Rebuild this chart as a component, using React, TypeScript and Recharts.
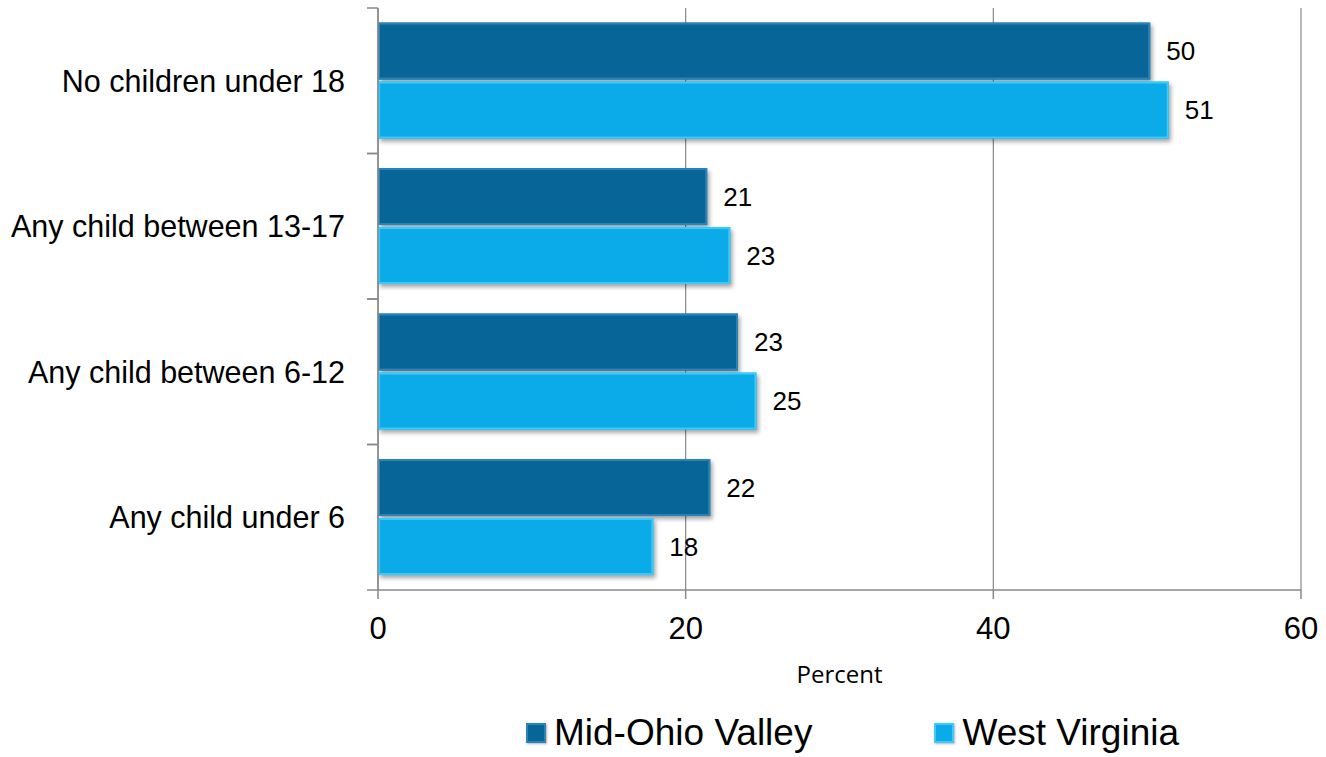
import { Bar, BarChart, CartesianGrid, LabelList, XAxis, YAxis } from "recharts"

const categories = ["No children under 18", "Any child between 13-17", "Any child between 6-12", "Any child under 6"]
const midOhio = [50.2, 21.4, 23.4, 21.6]
const westVirginia = [51.4, 22.9, 24.6, 17.9]
const xTicks = [0, 20, 40, 60]

const data = categories.map((name, i) => ({ name, mid: midOhio[i], wv: westVirginia[i] }))

const DARK = "#086598"
const DARK_EDGE = "#2c84b6"
const LIGHT = "#0aabe8"
const LIGHT_EDGE = "#3ccaf8"
const FONT = "'Liberation Sans', Arial, Helvetica, sans-serif"

const BAND_HALF = (590 - 8) / 4 / 2

function BevelBar(props: any) {
  const { x, y, width, height, fill, edge } = props
  if (!width || width <= 0) return null
  return (
    <g style={{ filter: "drop-shadow(2px 3px 2px rgba(0,0,0,0.35))" }}>
      <rect x={x} y={y} width={width} height={height} fill={fill} />
      <rect x={x + 1} y={y + 1} width={width - 2} height={height - 2} fill="none" stroke={edge} strokeWidth={2} />
    </g>
  )
}

function CategoryTick(props: any) {
  const { x, y, payload } = props
  return (
    <g>
      <line x1={x - 11} x2={x} y1={y - BAND_HALF} y2={y - BAND_HALF} stroke="#888" strokeWidth={1.5} />
      <line x1={x - 11} x2={x} y1={y + BAND_HALF} y2={y + BAND_HALF} stroke="#888" strokeWidth={1.5} />
      <text x={x - 33} y={y} textAnchor="end" dominantBaseline="central" fontSize={30.5} fill="#000" style={{ fontFamily: FONT }}>
        {payload.value}
      </text>
    </g>
  )
}

function LegendSwatch({ color, edge }: { color: string; edge: string }) {
  return (
    <span
      style={{
        display: "inline-block",
        width: 20,
        height: 20,
        background: color,
        boxShadow: `inset 0 0 0 2px ${edge}, 1px 1px 2px rgba(0,0,0,0.3)`,
        marginRight: 8,
      }}
    />
  )
}

export default function App() {
  return (
    <div style={{ position: "absolute", left: 0, top: 0, width: 1326, height: 757, background: "#fff", fontFamily: FONT }}>
      <BarChart
        width={1326}
        height={757}
        data={data}
        layout="vertical"
        margin={{ top: 8, right: 25, left: 0, bottom: 0 }}
        barCategoryGap="10%"
        barGap={2}
        style={{ fontFamily: FONT }}
      >
        <CartesianGrid horizontal={false} stroke="#888" strokeWidth={1.2} />
        <XAxis
          type="number"
          domain={[0, 60]}
          ticks={xTicks}
          height={167}
          stroke="#888"
          strokeWidth={1.5}
          tickSize={9}
          tickMargin={18}
          tick={{ fontSize: 31, fill: "#000", style: { fontFamily: FONT } }}
          label={{ value: "Percent", position: "insideTop", offset: 76, fontSize: 24, fill: "#000", style: { fontFamily: "'Open Sans', sans-serif" } }}
        />
        <YAxis
          type="category"
          dataKey="name"
          width={378}
          stroke="#888"
          strokeWidth={1.5}
          tickLine={false}
          tickSize={0}
          tickMargin={0}
          tick={<CategoryTick />}
          interval={0}
        />
        <Bar dataKey="mid" name="Mid-Ohio Valley" fill={DARK} isAnimationActive={false} shape={<BevelBar edge={DARK_EDGE} />}>
          <LabelList
            dataKey="mid"
            position="right"
            offset={16}
            formatter={(v: any) => Math.round(Number(v))}
            style={{ fontSize: 26, fill: "#000", fontFamily: FONT }}
          />
        </Bar>
        <Bar dataKey="wv" name="West Virginia" fill={LIGHT} isAnimationActive={false} shape={<BevelBar edge={LIGHT_EDGE} />}>
          <LabelList
            dataKey="wv"
            position="right"
            offset={16}
            formatter={(v: any) => Math.round(Number(v))}
            style={{ fontSize: 26, fill: "#000", fontFamily: FONT }}
          />
        </Bar>
      </BarChart>
      <div
        style={{
          position: "absolute",
          top: 712,
          left: 526,
          display: "flex",
          alignItems: "center",
          fontFamily: FONT,
          fontSize: 37,
          color: "#000",
          lineHeight: "42px",
        }}
      >
        <LegendSwatch color={DARK} edge={DARK_EDGE} />
        <span style={{ marginRight: 122 }}>Mid-Ohio Valley</span>
        <LegendSwatch color={LIGHT} edge={LIGHT_EDGE} />
        <span>West Virginia</span>
      </div>
    </div>
  )
}
